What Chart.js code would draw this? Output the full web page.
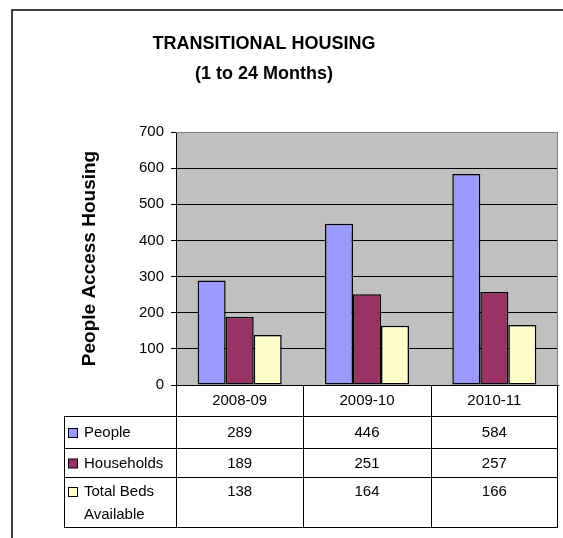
<!DOCTYPE html>
<html>
<head>
<meta charset="utf-8">
<script src="https://cdn.jsdelivr.net/npm/chart.js@4"></script>
<style>
  html, body { margin: 0; padding: 0; background: #fff; }
  #wrap { width: 563px; height: 538px; position: relative; }
</style>
</head>
<body>
<div id="wrap"><canvas id="housing"></canvas></div>
<script>
// chart data
const categories = ["2008-09", "2009-10", "2010-11"];
const people = [289, 446, 584];
const households = [189, 251, 257];
const totalBeds = [138, 164, 166];
const seriesNames = ["People", "Households", "Total Beds Available"];
const titleLines = ["TRANSITIONAL HOUSING", "(1 to 24 Months)"];
const yTitle = "People Access Housing";
const yMax = 700;
const yStep = 100;

const FONT = "'Liberation Sans', Arial, sans-serif";

// background, frame, title, gray plot area
const backdrop = {
  id: "backdrop",
  beforeDraw(chart) {
    const c = chart.ctx;
    const a = chart.chartArea;
    c.save();
    c.fillStyle = "#fff";
    c.fillRect(0, 0, chart.width, chart.height);
    // outer frame
    c.strokeStyle = "#000";
    c.lineWidth = 1.5;
    c.beginPath();
    c.moveTo(12, chart.height);
    c.lineTo(12, 10);
    c.lineTo(chart.width, 10);
    c.stroke();
    // title
    c.fillStyle = "#000";
    c.font = "bold 18px " + FONT;
    c.textAlign = "center";
    c.textBaseline = "middle";
    c.fillText(titleLines[0], 264, 44);
    c.fillText(titleLines[1], 264, 74);
    // plot area
    c.fillStyle = "#c0c0c0";
    c.fillRect(a.left, a.top, a.right - a.left, a.bottom - a.top);
    c.restore();
  },
  afterDatasetsDraw(chart) {
    const c = chart.ctx;
    const a = chart.chartArea;
    c.save();
    c.strokeStyle = "#808080";
    c.lineWidth = 1;
    c.beginPath();
    c.moveTo(a.left, a.top + 0.5);
    c.lineTo(a.right - 0.5, a.top + 0.5);
    c.lineTo(a.right - 0.5, a.bottom);
    c.stroke();
    c.restore();
  }
};

// data table under the plot
const dataTable = {
  id: "dataTable",
  afterDraw(chart) {
    const c = chart.ctx;
    const a = chart.chartArea;
    const x = chart.scales.x;
    const rows = [
      { top: 416, bottom: 448 },
      { top: 448, bottom: 477 },
      { top: 477, bottom: 527 }
    ];
    const tableLeft = 64;
    const colW = (a.right - a.left) / categories.length;

    c.save();
    c.strokeStyle = "#000";
    c.lineWidth = 1;
    c.beginPath();
    // horizontal rules
    [416, 448, 477, 527].forEach((y) => {
      c.moveTo(tableLeft, y + 0.5);
      c.lineTo(a.right, y + 0.5);
    });
    // vertical rules
    c.moveTo(tableLeft + 0.5, 416);
    c.lineTo(tableLeft + 0.5, 527);
    for (let i = 0; i <= categories.length; i++) {
      const xx = Math.round(a.left + i * colW) + 0.5;
      c.moveTo(i === categories.length ? xx - 1 : xx, a.bottom);
      c.lineTo(i === categories.length ? xx - 1 : xx, 527);
    }
    c.stroke();

    c.fillStyle = "#000";
    c.font = "15px " + FONT;
    c.textBaseline = "middle";
    c.textAlign = "center";
    categories.forEach((cat, i) => {
      c.fillText(cat, x.getPixelForValue(i), 401);
    });

    chart.data.datasets.forEach((ds, r) => {
      const row = rows[r];
      const yText = r < 2 ? (row.top + row.bottom) / 2 + 1 : 492;
      // legend key
      c.fillStyle = ds.backgroundColor;
      c.fillRect(68.5, yText - 4.5, 9, 9);
      c.strokeStyle = "#000";
      c.strokeRect(68.5, yText - 4.5, 9, 9);
      // row label
      c.fillStyle = "#000";
      c.textAlign = "left";
      if (r === 2) {
        c.fillText("Total Beds", 84, yText);
        c.fillText("Available", 84, 515);
      } else {
        c.fillText(ds.label, 84, yText);
      }
      // values
      c.textAlign = "center";
      ds.data.forEach((v, i) => {
        c.fillText(String(v), x.getPixelForValue(i), yText);
      });
    });
    c.restore();
  }
};

const ctx = document.getElementById("housing").getContext("2d");
const chart = new Chart(ctx, {
  type: "bar",
  data: {
    labels: categories,
    datasets: [
      { label: seriesNames[0], data: people, backgroundColor: "#9999ff" },
      { label: seriesNames[1], data: households, backgroundColor: "#993366" },
      { label: seriesNames[2], data: totalBeds, backgroundColor: "#ffffcc" }
    ]
  },
  options: {
    responsive: true,
    maintainAspectRatio: false,
    animation: false,
    layout: { padding: { left: 0, top: 132, right: 5, bottom: 153 } },
    datasets: {
      bar: {
        borderColor: "#000",
        borderWidth: 1.5,
        borderSkipped: false,
        categoryPercentage: 0.66,
        barPercentage: 1
      }
    },
    plugins: {
      legend: { display: false },
      tooltip: { enabled: false },
      title: { display: false }
    },
    scales: {
      x: {
        ticks: { display: false },
        grid: { display: false, drawTicks: false },
        border: { display: true, color: "#000", width: 1 }
      },
      y: {
        min: 0,
        max: yMax,
        afterFit(scale) {
          scale.width = 176;
        },
        ticks: {
          stepSize: yStep,
          color: "#000",
          padding: 7,
          font: { family: FONT, size: 15 }
        },
        grid: {
          color: "#000",
          lineWidth: 1,
          tickLength: 5,
          drawOnChartArea: true
        },
        border: { display: true, color: "#000", width: 1 },
        title: {
          display: true,
          text: yTitle,
          color: "#000",
          padding: { top: 78, bottom: 0 },
          font: { family: FONT, size: 19, weight: "bold" }
        }
      }
    }
  },
  plugins: [backdrop, dataTable]
});
</script>
</body>
</html>
